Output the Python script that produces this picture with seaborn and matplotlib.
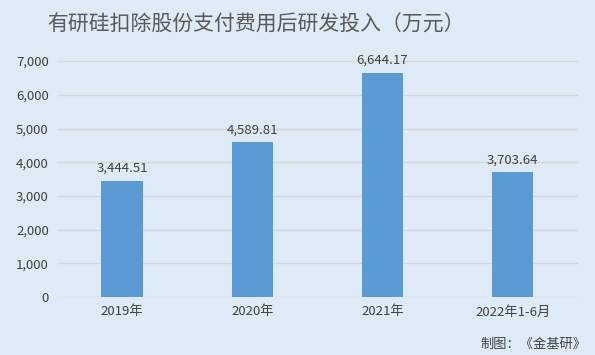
import matplotlib
matplotlib.use("Agg")
import matplotlib.pyplot as plt
import seaborn as sns
import pandas as pd

# data
years = ["2019年", "2020年", "2021年", "2022年1-6月"]
rd_spend = [3444.51, 4589.81, 6644.17, 3703.64]

bg = "#DEEAF6"
sns.set_theme(style="white")
plt.rcParams["font.family"] = ["Noto Sans CJK SC", "DejaVu Sans"]

df = pd.DataFrame({"year": years, "value": rd_spend})

fig = plt.figure(figsize=(5.95, 3.55), dpi=100, facecolor=bg)
ax = fig.add_axes([0.096, 0.163, 0.875, 0.665], facecolor=bg)

sns.barplot(data=df, x="year", y="value", color="#5B9BD5", width=0.32,
            saturation=1, linewidth=0, ax=ax, zorder=3)

ax.set_ylim(0, 7000)
ax.set_yticks(range(0, 7001, 1000))
ax.set_yticklabels([f"{v:,}" for v in range(0, 7001, 1000)])
ax.yaxis.grid(True, color="#D6D6D6", linewidth=1, zorder=0)
ax.set_xlabel("")
ax.set_ylabel("")
for s in ax.spines.values():
    s.set_visible(False)
ax.tick_params(axis="both", length=0, labelsize=9.5, colors="#404040", pad=6)

for i, v in enumerate(rd_spend):
    ax.text(i, v + 180, f"{v:,.2f}", ha="center", va="bottom",
            fontsize=9.5, color="#404040")

fig.text(0.431, 0.93, "有研硅扣除股份支付费用后研发投入（万元）", ha="center",
         va="center", fontsize=15, color="#595959")
fig.text(0.985, 0.03, "制图：《金基研》", ha="right", va="center",
         fontsize=9.5, color="#404040")

fig.savefig("out.png", dpi=100, facecolor=bg)
